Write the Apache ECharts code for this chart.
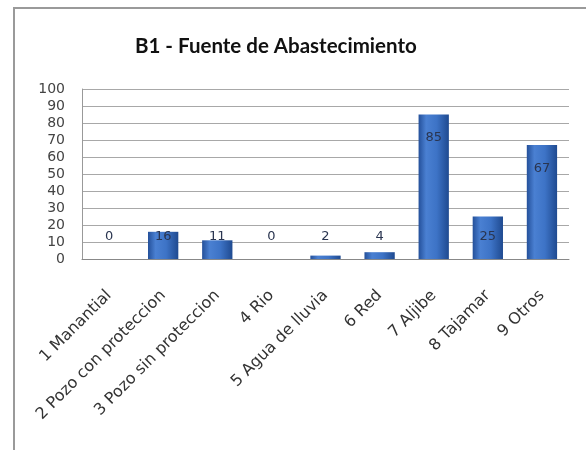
<!DOCTYPE html>
<html><head><meta charset="utf-8">
<script src="https://cdn.jsdelivr.net/npm/echarts@6/dist/echarts.min.js"></script>
<style>html,body{margin:0;padding:0;background:#fff}#c{width:586px;height:450px}</style>
</head><body><div id="c"></div>
<script>
const titleText = 'B1 - Fuente de Abastecimiento';
const categories = ['1 Manantial','2 Pozo con proteccion','3 Pozo sin proteccion','4 Rio','5 Agua de lluvia','6 Red','7 Aljibe','8 Tajamar','9 Otros'];
const values = [0, 16, 11, 0, 2, 4, 85, 25, 67];
const yTicks = [0,10,20,30,40,50,60,70,80,90,100];

const chart = echarts.init(document.getElementById('c'), null, {renderer:'canvas'});
const barColor = new echarts.graphic.LinearGradient(0,0,1,0,[
  {offset:0,color:'#24509a'},{offset:0.25,color:'#4a80d2'},{offset:0.6,color:'#3d73c6'},{offset:1,color:'#1f4a90'}]);
const data = values.map(v => ({
  value: v,
  label: v > 40 ? {position:'insideTop', distance:17} : {position:'insideBottom', distance:16}
}));
chart.setOption({
  backgroundColor:'#fff',
  animation:false,
  graphic:[{type:'rect', shape:{x:14,y:8,width:600,height:470}, style:{fill:'none', stroke:'#9a9a9a', lineWidth:2}}],
  title:{text:titleText, left:130, top:31, textStyle:{fontFamily:'Lato', fontWeight:'bold', fontSize:20.5, color:'#111'}},
  grid:{left:82, right:17, top:89, bottom:191, containLabel:false},
  xAxis:{type:'category', data:categories,
    axisLine:{lineStyle:{color:'#888'}}, axisTick:{show:false},
    axisLabel:{interval:0, rotate:45, margin:34, fontFamily:'DejaVu Sans', fontSize:16, color:'#333'}},
  yAxis:{type:'value', min:0, max:100, interval:10,
    axisLine:{show:true, lineStyle:{color:'#999'}}, axisTick:{show:false},
    axisLabel:{margin:17, fontFamily:'DejaVu Sans', fontSize:14, lineHeight:13, color:'#444', formatter:v=>yTicks.includes(v)?String(v):''},
    splitLine:{lineStyle:{color:'#a8a8a8'}}},
  series:[{type:'bar', data:data, barWidth:'56%',
    itemStyle:{color:barColor},
    label:{show:true, fontFamily:'DejaVu Sans', fontSize:13, color:'#2a3550'}}]
});
</script></body></html>
